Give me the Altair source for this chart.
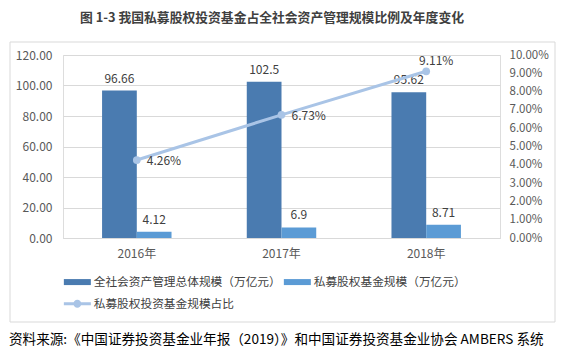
import altair as alt
import pandas as pd

# ---- data ----
years = ["2016年", "2017年", "2018年"]
total_aum = [96.66, 102.5, 95.62]          # 全社会资产管理总体规模（万亿元）
pe_fund = [4.12, 6.9, 8.71]                # 私募股权基金规模（万亿元）
pe_share = [0.0426, 0.0673, 0.0911]        # 私募股权投资基金规模占比
total_labels = ["96.66", "102.5", "95.62"]
pe_labels = ["4.12", "6.9", "8.71"]
share_labels = ["4.26%", "6.73%", "9.11%"]

series_bars = ["全社会资产管理总体规模（万亿元）", "私募股权基金规模（万亿元）"]
series_line = "私募股权投资基金规模占比"
left_ticks = [0, 20, 40, 60, 80, 100, 120]
right_ticks = [0, 0.01, 0.02, 0.03, 0.04, 0.05, 0.06, 0.07, 0.08, 0.09, 0.10]

title_text = "图 1-3  我国私募股权投资基金占全社会资产管理规模比例及年度变化"
source_text = "资料来源:《中国证券投资基金业年报（2019）》和中国证券投资基金业协会 AMBERS 系统"

FONT = "Noto Sans CJK SC"
C_DARK = "#4a7bb0"
C_LIGHT = "#5b9bd5"
C_LINE = "#a9c4e6"

bars_df = pd.DataFrame({
    "year": years * 2,
    "series": [series_bars[0]] * 3 + [series_bars[1]] * 3,
    "value": total_aum + pe_fund,
    "label": total_labels + pe_labels,
})
line_df = pd.DataFrame({
    "year": years,
    "series": [series_line] * 3,
    "share": pe_share,
    "label": share_labels,
})
one_df = pd.DataFrame({"k": [0]})

x_enc = alt.X("year:N", sort=years, title=None,
              scale=alt.Scale(paddingInner=0.52, paddingOuter=0.27),
              axis=alt.Axis(labelAngle=0, ticks=False, domainColor="#d9d9d9",
                            labelPadding=10, labelFontSize=12, labelColor="#595959",
                            labelFont=FONT))
xoff = alt.XOffset("series:N", sort=series_bars)

rect_path = "M-1,-0.6H4.4V0.6H-1Z"
line_path = "M-1,-0.3H4.4V0.3H-1Z M2.5,0A0.8,0.8 0 1,1 0.9,0A0.8,0.8 0 1,1 2.5,0Z"

y_left = alt.Y("value:Q", title=None,
               scale=alt.Scale(domain=[0, 120], nice=False),
               axis=alt.Axis(values=left_ticks, format=".2f", grid=True, gridColor="#d9d9d9",
                             domain=False, ticks=False, labelPadding=11, labelFontSize=12,
                             labelColor="#595959", labelFont=FONT, labelOverlap=False))
y_right = alt.Y("share:Q", title=None,
                scale=alt.Scale(domain=[0, 0.10], nice=False),
                axis=alt.Axis(orient="right", values=right_ticks, format=".2%", grid=False,
                              domain=False, ticks=False, labelPadding=9, labelFontSize=11.5,
                              labelColor="#595959", labelFont=FONT, labelOverlap=False))

bars = alt.Chart(bars_df).mark_bar().encode(
    x=x_enc,
    xOffset=xoff,
    y=y_left,
    color=alt.Color("series:N", sort=series_bars,
                    scale=alt.Scale(domain=series_bars, range=[C_DARK, C_LIGHT]),
                    legend=alt.Legend(title=None, orient="none", direction="horizontal",
                                      legendX=0, legendY=221, symbolType=rect_path,
                                      symbolSize=100, symbolStrokeWidth=0, labelOffset=19,
                                      columnPadding=2, labelFontSize=11.7, labelColor="#404040",
                                      labelFont=FONT, labelLimit=400)),
)
bar_text = alt.Chart(bars_df).mark_text(baseline="bottom", dy=-5, fontSize=12,
                                        color="#404040", font=FONT).encode(
    x=x_enc, xOffset=xoff, y=y_left, text="label:N")
left = alt.layer(bars, bar_text)

line = alt.Chart(line_df).mark_line(color=C_LINE, strokeWidth=3).encode(x=x_enc, y=y_right)
points = alt.Chart(line_df).mark_circle(size=60, opacity=1).encode(
    x=x_enc, y=y_right,
    color=alt.Color("series:N",
                    scale=alt.Scale(domain=[series_line], range=[C_LINE]),
                    legend=alt.Legend(title=None, orient="none", legendX=0, legendY=243,
                                      symbolType=line_path, symbolSize=100, symbolStrokeWidth=0,
                                      symbolOpacity=1, labelOffset=19, labelFontSize=11.7,
                                      labelColor="#404040", labelFont=FONT, labelLimit=400)),
)
pct_text_a = alt.Chart(line_df).transform_filter(
    alt.datum.year != "2018年").mark_text(align="left", baseline="middle", dx=10, dy=1,
                                          fontSize=12, color="#404040", font=FONT).encode(
    x=x_enc, y=y_right, text="label:N")
pct_text_b = alt.Chart(line_df).transform_filter(
    alt.datum.year == "2018年").mark_text(align="center", baseline="middle", dx=10, dy=-10,
                                          fontSize=12, color="#404040", font=FONT).encode(
    x=x_enc, y=y_right, text="label:N")
right = alt.layer(line, points, pct_text_a, pct_text_b)

frame = alt.Chart(one_df).mark_rect(fill="transparent", stroke="#d9d9d9", strokeWidth=1).encode(
    x=alt.value(-53), x2=alt.value(492), y=alt.value(-13), y2=alt.value(267))
title = alt.Chart(one_df).mark_text(align="center", baseline="middle", fontSize=12.8,
                                    fontWeight="bold", color="#404040", font=FONT).encode(
    x=alt.value(209), y=alt.value(-37), text=alt.value(title_text))
source = alt.Chart(one_df).mark_text(align="left", baseline="middle", fontSize=13.6,
                                     color="#000000", font=FONT).encode(
    x=alt.value(-54), y=alt.value(285), text=alt.value(source_text))

chart = alt.layer(frame, title, left, right, source).resolve_scale(
    y="independent", color="independent"
).properties(
    width=437, height=183,
    autosize=alt.AutoSizeParams(type="none"),
    padding={"left": 55, "top": 47, "right": 61, "bottom": 114},
).configure_view(stroke=None).configure_axis(
    labelOverlap=False, gridColor="#d9d9d9"
).configure(background="white")

chart.save("out.html", embed_options={"renderer": "svg", "actions": False})
